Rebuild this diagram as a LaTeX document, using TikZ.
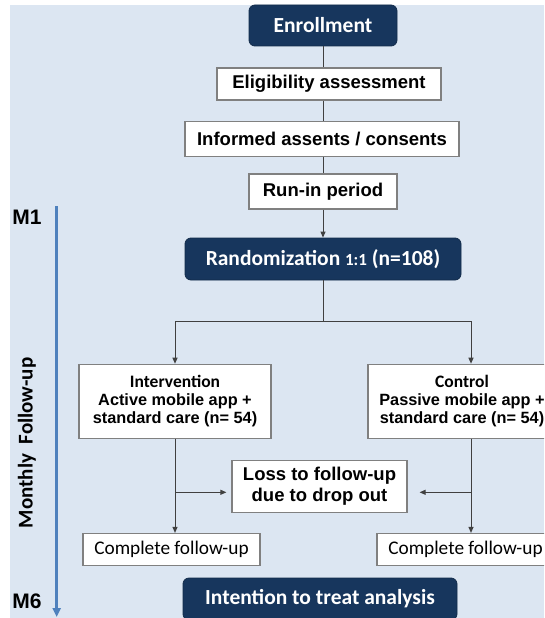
\documentclass[tikz,border=0pt]{standalone}
\usepackage{fontspec}
\setmainfont{Liberation Sans}
\newfontfamily\calfont{Carlito}
\usetikzlibrary{arrows.meta,calc}
\definecolor{bgblue}{RGB}{220,230,242}
\definecolor{navy}{RGB}{23,54,93}
\definecolor{axisblue}{RGB}{79,129,189}
\definecolor{linegray}{RGB}{64,64,64}
\definecolor{boxborder}{RGB}{128,128,128}
\tikzset{
 whitebox/.style={draw=boxborder, line width=1.2pt, fill=white, inner sep=0pt, align=center, font=\bfseries\fontsize{18.5}{20}\selectfont},
 darkbox/.style={draw=navy!80!black, line width=0.8pt, fill=navy, rounded corners=6pt, inner sep=0pt, text=white, font=\calfont\bfseries\fontsize{21.5}{24}\selectfont},
 groupbox/.style={whitebox, minimum height=74pt, font=\bfseries\fontsize{16.3}{18}\selectfont},
 compbox/.style={whitebox, minimum width=177pt, minimum height=32pt, font=\calfont\fontsize{19.3}{20}\selectfont},
 conn/.style={draw=linegray, line width=1pt},
 arr/.style={conn, -{Triangle[length=6pt,width=5pt]}},
 sidelabel/.style={font=\bfseries\fontsize{21}{21}\selectfont},
}
\begin{document}
\begin{tikzpicture}[x=1pt,y=-1pt]
\useasboundingbox (0,0) rectangle (544,618);
\clip (0,0) rectangle (544,618);
\fill[bgblue] (10,5) rectangle (544,618);

% axis
\coordinate (axtop) at (56.7,206);
\coordinate (axbot) at (56.7,617);
\draw[axisblue, line width=3pt, -{Triangle[length=9pt,width=8pt]}] (axtop) -- (axbot);
\node[sidelabel] (m1) at (27,217) {M1};
\node[sidelabel] (m6) at (27,601) {M6};
\node[rotate=90, font=\calfont\bfseries\fontsize{21}{21}\selectfont] (monthly) at (27,443) {Monthly\ \ Follow-up};

% top chain
\node[darkbox, minimum width=148pt, minimum height=41pt] (enroll) at (323,25.5) {Enrollment};
\node[whitebox, minimum width=224pt, minimum height=32pt] (elig) at (329,84) {Eligibility assessment};
\node[whitebox, minimum width=274pt, minimum height=35pt] (inform) at (322,139) {Informed assents / consents};
\node[whitebox, minimum width=148pt, minimum height=35pt] (runin) at (323,191.5) {Run-in period};
\node[darkbox, minimum width=276pt, minimum height=42pt] (rand) at (323,259) {Randomization {\fontsize{17}{17}\selectfont 1:1} (n=108)};

\coordinate (colc) at (323,0);
\draw[conn] (enroll.south -| colc) -- (elig.north -| colc);
\draw[conn] (elig.south -| colc) -- (inform.north -| colc);
\draw[conn] (inform.south -| colc) -- (runin.north -| colc);
\draw[arr] (runin.south -| colc) -- (rand.north -| colc);

% groups
\node[groupbox, minimum width=192pt] (interv) at (175,401.3) {{\calfont\fontsize{17.5}{18}\selectfont Intervention}\\Active mobile app +\\standard care (n= 54)};
\node[groupbox, minimum width=188pt] (control) at (462,401.3) {{\calfont\fontsize{17.5}{18}\selectfont Control}\\Passive mobile app +\\standard care (n= 54)};

\coordinate (split) at (323,321.7);
\coordinate (lx) at (175,0);
\coordinate (rx) at (471,0);
\draw[conn] (rand.south -| colc) -- (split);
\draw[arr] (split) -| (interv.north -| lx);
\draw[arr] (split) -| (control.north -| rx);

% loss
\node[whitebox, minimum width=175pt, minimum height=52.5pt, font=\bfseries\fontsize{18.5}{21}\selectfont] (loss) at (319.5,486.5) {Loss to follow-up\\due to drop out};

% complete
\node[compbox] (compL) at (171.5,549.5) {Complete follow-up};
\node[compbox] (compR) at (465.5,549.5) {Complete follow-up};

\draw[arr] (interv.south -| lx) -- (compL.north -| lx);
\draw[arr] (control.south -| rx) -- (compR.north -| rx);

\coordinate (jl) at (175,492.3);
\coordinate (jr) at (471,492.3);
\draw[arr, shorten >=5pt] (jl) -- (jl -| loss.west);
\draw[arr, shorten >=12pt] (jr) -- (jr -| loss.east);

% ITT
\node[darkbox, minimum width=274pt, minimum height=42pt] (itt) at (320,599) {Intention to treat analysis};
\end{tikzpicture}
\end{document}
